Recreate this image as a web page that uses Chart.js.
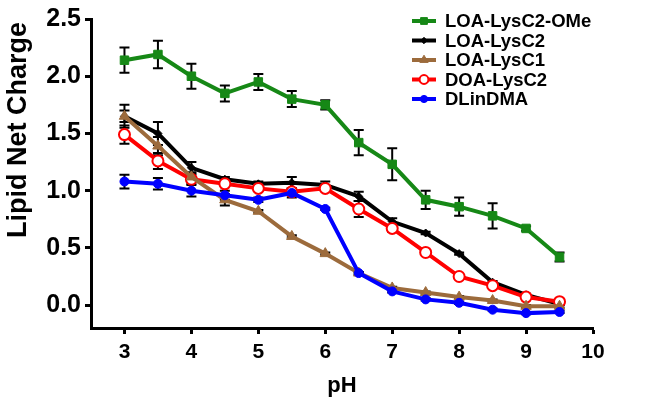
<!DOCTYPE html>
<html>
<head>
<meta charset="utf-8">
<script src="https://cdn.jsdelivr.net/npm/chart.js@4"></script>
<style>
  html, body { margin: 0; padding: 0; background: #fff; }
  #wrap { width: 654px; height: 407px; }
</style>
</head>
<body>
<div id="wrap"><canvas id="chart"></canvas></div>
<script>
// pH points
const phValues = [3, 3.5, 4, 4.5, 5, 5.5, 6, 6.5, 7, 7.5, 8, 8.5, 9, 9.5];
const xTicks = [3, 4, 5, 6, 7, 8, 9, 10];
const yTicks = [0, 0.5, 1.0, 1.5, 2.0, 2.5];

const seriesNames = ['LOA-LysC2-OMe', 'LOA-LysC2', 'LOA-LysC1', 'DOA-LysC2', 'DLinDMA'];

const loaLysC2OMe = [2.14, 2.19, 2.00, 1.85, 1.95, 1.80, 1.75, 1.42, 1.23, 0.92, 0.86, 0.78, 0.67, 0.42];
const loaLysC2OMeErr = [0.11, 0.12, 0.11, 0.07, 0.07, 0.07, 0.04, 0.11, 0.14, 0.08, 0.08, 0.11, 0.02, 0.04];

const loaLysC2 = [1.65, 1.50, 1.20, 1.10, 1.06, 1.07, 1.05, 0.95, 0.73, 0.63, 0.45, 0.20, 0.09, 0.01];
const loaLysC2Err = [0.10, 0.10, 0.05, 0.02, 0.02, 0.05, 0.03, 0.04, 0.03, 0.01, 0.01, 0.01, 0.01, 0.01];

const loaLysC1 = [1.65, 1.39, 1.12, 0.92, 0.82, 0.60, 0.45, 0.28, 0.15, 0.11, 0.07, 0.04, -0.01, -0.01];
const loaLysC1Err = [0.05, 0.08, 0.04, 0.05, 0.01, 0.01, 0.01, 0.01, 0.01, 0.01, 0.01, 0.01, 0.01, 0.01];

const doaLysC2 = [1.49, 1.26, 1.10, 1.06, 1.02, 0.99, 1.02, 0.84, 0.67, 0.46, 0.25, 0.17, 0.07, 0.03];
const doaLysC2Err = [0.08, 0.07, 0.04, 0.02, 0.02, 0.03, 0.02, 0.07, 0.03, 0.01, 0.01, 0.01, 0.01, 0.01];

const dlinDMA = [1.08, 1.06, 1.00, 0.96, 0.92, 0.98, 0.84, 0.28, 0.12, 0.05, 0.02, -0.04, -0.07, -0.06];
const dlinDMAErr = [0.06, 0.05, 0.05, 0.04, 0.02, 0.04, 0.01, 0.01, 0.01, 0.01, 0.01, 0.01, 0.01, 0.01];

const FONT = '"Liberation Sans", Arial, sans-serif';

function pts(values) {
  return values.map((v, i) => ({ x: phValues[i], y: v }));
}

function makeSet(label, values, errs, color, style, radius, fill) {
  return {
    label: label,
    data: pts(values),
    errors: errs,
    borderColor: color,
    backgroundColor: color,
    borderWidth: 4,
    pointStyle: style,
    pointRadius: radius,
    pointBorderWidth: fill ? 1 : 2,
    pointBackgroundColor: fill ? color : '#fff',
    pointBorderColor: color,
    tension: 0,
  };
}

const datasets = [
  makeSet(seriesNames[4], dlinDMA, dlinDMAErr, '#0000ff', 'circle', 4.5, true),
  makeSet(seriesNames[2], loaLysC1, loaLysC1Err, '#9c6b3c', 'triangle', 6, true),
  makeSet(seriesNames[3], doaLysC2, doaLysC2Err, '#ff0000', 'circle', 5.5, false),
  makeSet(seriesNames[1], loaLysC2, loaLysC2Err, '#000000', 'rectRot', 4, true),
  makeSet(seriesNames[0], loaLysC2OMe, loaLysC2OMeErr, '#168816', 'rect', 6, true),
];

// error bars under the markers
const errorBars = {
  id: 'errorBars',
  beforeDatasetsDraw(chart) {
    const ctx = chart.ctx;
    const xs = chart.scales.x, ys = chart.scales.y;
    ctx.save();
    ctx.strokeStyle = '#000';
    ctx.lineWidth = 2;
    chart.data.datasets.forEach(ds => {
      ds.data.forEach((p, i) => {
        const e = ds.errors[i];
        if (!e) return;
        const x = xs.getPixelForValue(p.x);
        const y1 = ys.getPixelForValue(p.y + e);
        const y2 = ys.getPixelForValue(p.y - e);
        ctx.beginPath();
        ctx.moveTo(x, y1); ctx.lineTo(x, y2);
        ctx.moveTo(x - 5, y1); ctx.lineTo(x + 5, y1);
        ctx.moveTo(x - 5, y2); ctx.lineTo(x + 5, y2);
        ctx.stroke();
      });
    });
    ctx.restore();
  }
};

// legend and y title drawn by hand
const extras = {
  id: 'extras',
  afterDraw(chart) {
    const ctx = chart.ctx;
    ctx.save();
    ctx.fillStyle = '#000';
    ctx.font = 'bold 27px ' + FONT;
    ctx.translate(19, 130);
    ctx.rotate(-Math.PI / 2);
    ctx.textAlign = 'center';
    ctx.textBaseline = 'middle';
    ctx.fillText('Lipid Net Charge', 0, 0);
    ctx.restore();

    ctx.save();
    ctx.font = 'bold 18.5px ' + FONT;
    ctx.textBaseline = 'middle';
    seriesNames.forEach((name, r) => {
      const ds = chart.data.datasets.find(d => d.label === name);
      const y = 21 + r * 19.5;
      ctx.strokeStyle = ds.borderColor;
      ctx.lineWidth = 4;
      ctx.beginPath();
      ctx.moveTo(412, y); ctx.lineTo(436, y);
      ctx.stroke();
      ctx.fillStyle = ds.pointBackgroundColor;
      ctx.strokeStyle = ds.pointBorderColor;
      ctx.lineWidth = ds.pointBorderWidth;
      Chart.helpers.drawPoint(ctx, {
        pointStyle: ds.pointStyle,
        radius: ds.pointRadius * 0.8,
        borderWidth: ds.pointBorderWidth,
        rotation: 0,
      }, 424, y);
      ctx.fillStyle = '#000';
      ctx.fillText(name, 445, y + 1);
    });
    ctx.restore();
  }
};

new Chart(document.getElementById('chart'), {
  type: 'line',
  data: { datasets: datasets },
  plugins: [errorBars, extras],
  options: {
    responsive: true,
    maintainAspectRatio: false,
    animation: false,
    layout: { padding: { top: 19, right: 61, left: 0, bottom: 8 } },
    plugins: {
      legend: { display: false },
      tooltip: { enabled: false },
    },
    scales: {
      x: {
        type: 'linear',
        min: 2.5,
        max: 10,
        afterBuildTicks: s => { s.ticks = xTicks.map(v => ({ value: v })); },
        afterFit: s => { s.height = 71; },
        grid: { display: true, drawOnChartArea: false, color: '#000', tickLength: 6, tickWidth: 3 },
        border: { display: true, color: '#000', width: 3 },
        ticks: { color: '#000', font: { family: FONT, size: 21, weight: 'bold' }, padding: 6, maxRotation: 0 },
        title: { display: true, text: 'pH', color: '#000', font: { family: FONT, size: 22, weight: 'bold' }, padding: { top: 4, bottom: 0 } },
      },
      y: {
        min: -0.2,
        max: 2.5,
        afterBuildTicks: s => { s.ticks = yTicks.map(v => ({ value: v })); },
        afterFit: s => { s.width = 91; },
        grid: { display: true, drawOnChartArea: false, color: '#000', tickLength: 6, tickWidth: 3 },
        border: { display: true, color: '#000', width: 3 },
        ticks: { color: '#000', font: { family: FONT, size: 25, weight: 'bold' }, padding: 4, callback: v => v.toFixed(1) },
      },
    },
  },
});
</script>
</body>
</html>
